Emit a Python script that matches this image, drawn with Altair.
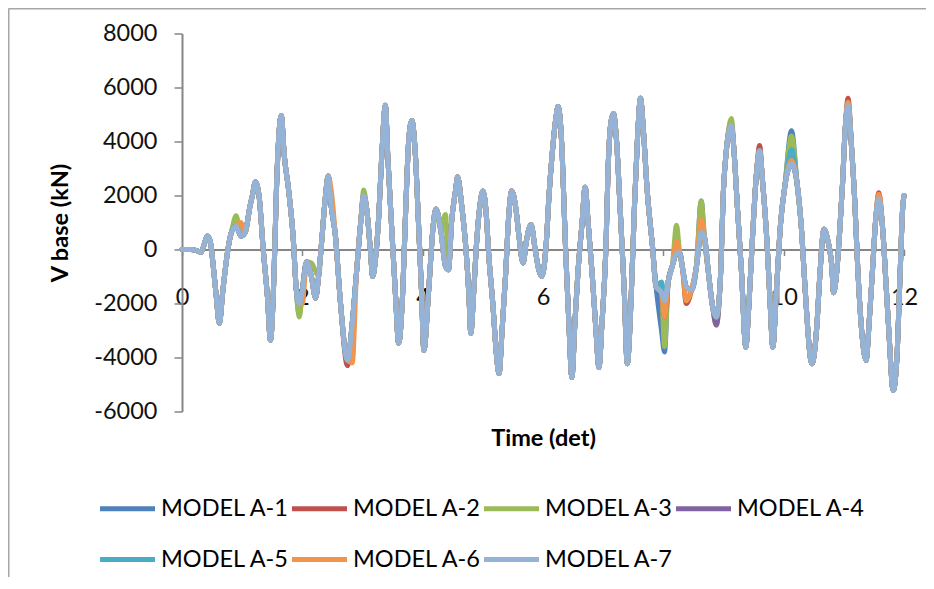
import altair as alt
import pandas as pd

# ---------------- data ----------------
SERIES = ["MODEL A-1", "MODEL A-2", "MODEL A-3", "MODEL A-4",
          "MODEL A-5", "MODEL A-6", "MODEL A-7"]
COLORS = ["#4F81BD", "#C0504D", "#9BBB59", "#8064A2",
          "#4BACC6", "#F0954A", "#95B3D7"]

TIME = [0.00, 0.15, 0.25, 0.32, 0.37, 0.42, 0.47, 0.52, 0.57, 0.62,
        0.68, 0.77, 0.82, 0.90, 0.98, 1.05, 1.13, 1.17, 1.22, 1.28,
        1.35, 1.42, 1.47, 1.53, 1.57, 1.65, 1.70, 1.77, 1.85, 1.90,
        1.95, 2.00, 2.07, 2.15, 2.22, 2.27, 2.32, 2.38, 2.43, 2.48,
        2.55, 2.63, 2.75, 2.83, 2.90, 2.97, 3.02, 3.07, 3.13, 3.17,
        3.22, 3.27, 3.32, 3.38, 3.42, 3.48, 3.55, 3.60, 3.67, 3.72,
        3.77, 3.82, 3.88, 3.93, 3.98, 4.02, 4.10, 4.18, 4.22, 4.30,
        4.38, 4.43, 4.48, 4.55, 4.58, 4.65, 4.72, 4.77, 4.80, 4.85,
        4.90, 4.95, 5.00, 5.05, 5.10, 5.17, 5.22, 5.27, 5.32, 5.38,
        5.43, 5.48, 5.55, 5.60, 5.67, 5.72, 5.80, 5.87, 5.93, 5.98,
        6.05, 6.10, 6.15, 6.22, 6.25, 6.32, 6.35, 6.38, 6.43, 6.48,
        6.53, 6.58, 6.65, 6.70, 6.75, 6.82, 6.88, 6.93, 6.98, 7.05,
        7.08, 7.13, 7.17, 7.22, 7.28, 7.35, 7.40, 7.47, 7.52, 7.57,
        7.62, 7.67, 7.73, 7.82, 7.88, 7.97, 8.02, 8.08, 8.15, 8.22,
        8.27, 8.32, 8.38, 8.47, 8.55, 8.63, 8.68, 8.75, 8.82, 8.88,
        8.95, 9.00, 9.05, 9.13, 9.18, 9.23, 9.30, 9.37, 9.42, 9.48,
        9.55, 9.60, 9.65, 9.72, 9.77, 9.82, 9.88, 9.95, 10.02, 10.13,
        10.22, 10.30, 10.35, 10.47, 10.55, 10.60, 10.67, 10.73, 10.80, 10.83,
        10.88, 10.93, 10.98, 11.02, 11.07, 11.13, 11.18, 11.23, 11.30, 11.37,
        11.42, 11.48, 11.53, 11.58, 11.65, 11.70, 11.75, 11.82, 11.88, 11.93,
        11.98, 12.00]

A7 = [0, 0, -50, -100, 200, 500, 300, -630, -1750, -2730,
      -1500, 100, 630, 860, 500, 630, 1600, 2000, 2500, 2000,
      0, -1750, -3360, -870, 2240, 4960, 3470, 2240, 370, -1500,
      -2000, -1500, -450, -1000, -1800, -1000, 260, 1870, 2720, 1600,
      500, -1870, -4100, -2720, -870, 1000, 2000, 1500, 0, -1000,
      -250, 1230, 3470, 5340, 3470, 1000, -1750, -3470, -1500, 1600,
      4100, 4780, 3470, 1000, -1500, -3730, -1500, 1000, 1500, 750,
      -630, -750, 1000, 2240, 2690, 1600, 0, -1750, -3100, -1500,
      370, 1600, 2170, 1500, -250, -2130, -3730, -4590, -2990, -870,
      1230, 2170, 1500, 500, -500, 260, 930, 0, -750, -1000,
      100, 2000, 3470, 4960, 5300, 3470, 1600, -250, -2730, -4740,
      -2730, -870, 1000, 2310, 1000, -1000, -2990, -4370, -2730, 370,
      2870, 4730, 5040, 4100, 1600, -1500, -4230, -1500, 1600, 4100,
      5600, 4360, 2240, 100, -1380, -1600, -1900, -1200, -600, -150,
      -120, -700, -1380, -1500, -630, 630, 500, -870, -2130, -2500,
      -1000, 2240, 3730, 4590, 3470, 1600, -870, -3620, -2130, 370,
      2870, 3660, 2500, 370, -1750, -3620, -1500, 1000, 2350, 3170,
      2500, 630, -1230, -4230, -2870, -1000, 750, 370, -630, -1600,
      -870, 630, 2500, 4360, 5340, 3730, 1870, -630, -3100, -4100,
      -2730, -630, 1120, 1870, 630, -1230, -3100, -5220, -4100, -1230,
      1600, 2000]

# points where the other models show beside MODEL A-7: (time, value)
DEV_A1 = [(0.90, 1000), (1.95, -2400), (7.97, -3000), (8.02, -3800),
          (8.63, 1800), (10.13, 4400)]
DEV_A2 = [(2.75, -4300), (8.02, -2800), (8.38, -2000), (9.13, 4700),
          (9.60, 3850), (11.07, 5600), (11.58, 2100)]
DEV_A3 = [(0.90, 1250), (1.95, -2500), (2.15, -500), (2.22, -800),
          (3.02, 2200), (4.38, 1300), (8.02, -3600), (8.22, 900),
          (8.63, 1800), (8.88, -2800), (9.13, 4850), (10.13, 4200)]
DEV_A4 = [(3.02, 2000), (8.02, -2500), (8.88, -2800)]
DEV_A5 = [(2.07, -700), (7.97, -1200), (10.13, 3700)]
DEV_A6 = [(0.98, 1000), (2.00, -2000), (2.48, 2200), (2.83, -4200),
          (8.02, -2500), (8.22, 300), (8.38, -1900), (8.63, 1100),
          (10.13, 3300), (11.07, 5450), (11.58, 2050)]
DEVS = [DEV_A1, DEV_A2, DEV_A3, DEV_A4, DEV_A5, DEV_A6, []]

Y_TICKS = [-6000, -4000, -2000, 0, 2000, 4000, 6000, 8000]
X_TICKS = [0, 2, 4, 6, 8, 10, 12]

rows = []
for name, dev in zip(SERIES, DEVS):
    pts = dict(zip(TIME, A7))
    pts.update(dict(dev))
    for t in sorted(pts):
        rows.append({"series": name, "t": t, "v": pts[t]})
df = pd.DataFrame(rows)

# ---------------- layout ----------------
W, H = 722, 378
FONT = "Lato"
AXC = "#868686"
zero_offset = -H * 6000 / 14000

lines = alt.Chart(df).mark_line(
    strokeWidth=5, strokeJoin="round", strokeCap="round", interpolate="monotone"
).encode(
    x=alt.X("t:Q", scale=alt.Scale(domain=[0, 12], nice=False, zero=False),
            axis=alt.Axis(values=X_TICKS, grid=False, offset=zero_offset,
                          title="Time (det)", titleFont=FONT, titleFontSize=23.5,
                          titleFontWeight="bold", titleColor="#000",
                          titleY=196, titleBaseline="alphabetic",
                          labelFont=FONT, labelFontSize=23.5, labelColor="#111",
                          labelPadding=30, tickSize=6, tickColor=AXC, tickWidth=1.5,
                          domainColor=AXC, domainWidth=2, labelFlush=False)),
    y=alt.Y("v:Q", scale=alt.Scale(domain=[-6000, 8000], nice=False, zero=False),
            axis=alt.Axis(values=Y_TICKS, grid=False, labelExpr="'' + datum.value",
                          title="V base (kN)", titleFont=FONT, titleFontSize=23.5,
                          titleFontWeight="bold", titleColor="#000",
                          titleX=-122, titleY=H / 2, titleBaseline="middle",
                          titleAngle=270, titleAlign="center",
                          labelFont=FONT, labelFontSize=23.5, labelColor="#111",
                          labelPadding=17, tickSize=8, tickColor=AXC, tickWidth=1.5,
                          domainColor=AXC, domainWidth=2)),
    color=alt.Color("series:N", scale=alt.Scale(domain=SERIES, range=COLORS),
                    legend=alt.Legend(orient="none", legendX=-84.5, legendY=445,
                                      columns=4, direction="horizontal", title=None,
                                      symbolType="stroke", symbolSize=3025,
                                      symbolStrokeWidth=5, labelFont=FONT,
                                      labelFontSize=23.5, labelColor="#000",
                                      labelOffset=3.5, columnPadding=-9.5,
                                      rowPadding=9, padding=0, labelLimit=0)),
)

frame_df = pd.DataFrame({"k": [0]})
frame_top = alt.Chart(frame_df).mark_rule(color="#a6a6a6", strokeWidth=2).encode(
    x=alt.value(-173.5), x2=alt.value(W + 30), y=alt.value(-25))
frame_left = alt.Chart(frame_df).mark_rule(color="#a6a6a6", strokeWidth=2).encode(
    x=alt.value(-173.5), y=alt.value(-25), y2=alt.value(H + 170))

chart = alt.layer(frame_top, frame_left, lines).properties(
    width=W, height=H,
    background="white",
    autosize=alt.AutoSizeParams(type="none"),
    padding={"left": 174, "top": 25.5, "right": 22, "bottom": 165},
).configure_view(stroke=None)

chart.save("out.html", embed_options={"renderer": "svg", "actions": False})
